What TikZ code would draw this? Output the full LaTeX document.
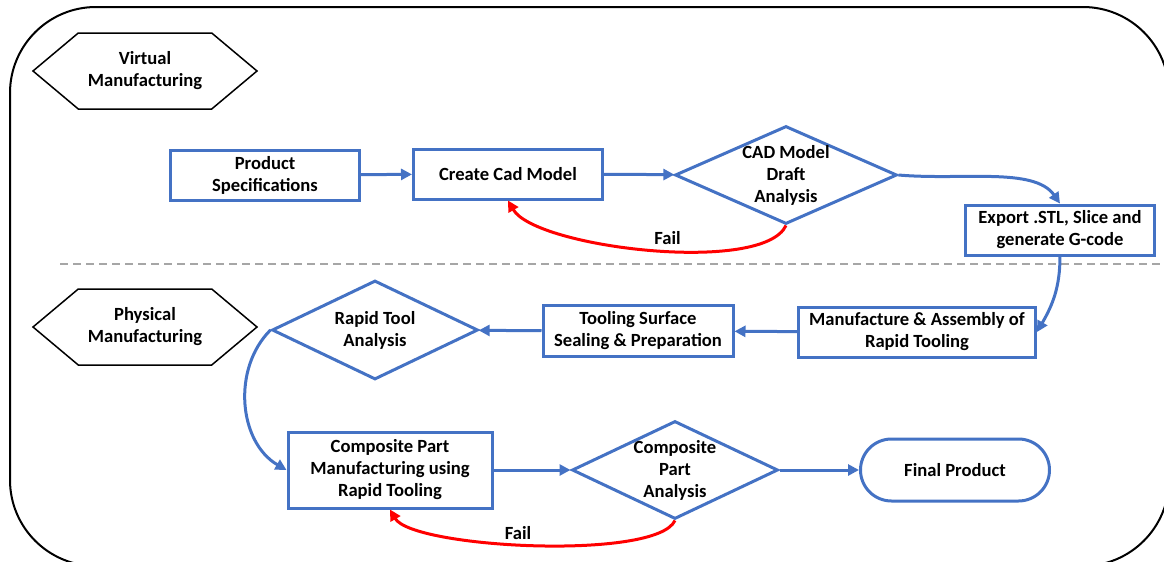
\documentclass[tikz,border=0pt]{standalone}
\usepackage{fontspec}
\setmainfont{Carlito}
\usetikzlibrary{positioning, arrows.meta, shapes.geometric, shapes.symbols}

\definecolor{flowblue}{HTML}{4472C4}
\definecolor{failred}{HTML}{FF0000}
\definecolor{sepgray}{HTML}{A6A6A6}

\tikzset{
  box/.style={draw=flowblue, line width=1.5pt, fill=white, inner sep=0pt, align=center,
    font=\fontsize{9.3}{11}\selectfont\bfseries, minimum width=94.5pt, minimum height=25pt},
  check/.style={diamond, draw=flowblue, line width=1.5pt, inner sep=-12pt, align=center,
    font=\fontsize{9.3}{11}\selectfont\bfseries},
  phase/.style={signal, signal to=west and east, signal pointer angle=80, draw=black,
    line width=0.75pt, inner sep=0pt, align=center, font=\fontsize{9.3}{11}\selectfont\bfseries,
    minimum width=112pt, minimum height=38pt},
  flow/.style={draw=flowblue, line width=1.5pt, -{Triangle[length=5.5pt,width=5.5pt]}},
  fail/.style={draw=failred, line width=1.5pt, -{Triangle[length=5.5pt,width=5.5pt]}},
  faillabel/.style={font=\fontsize{9.3}{11}\selectfont\bfseries, inner sep=1pt}
}

\begin{document}
\begin{tikzpicture}[x=0.5pt, y=-0.5pt]
  \useasboundingbox (0,0) rectangle (1164,562);
  \clip (0,0) rectangle (1164,562);
  % outer frame and the split between the two stages
  \draw[line width=1pt, rounded corners=43pt] (10,7) rectangle (1169,566);
  \draw[sepgray, line width=0.75pt, dash pattern=on 4pt off 2.5pt] (60,264) -- (1164,264);

  % stage tags
  \node[phase] (virtual) at (145,71) {Virtual\\Manufacturing};
  \node[phase] (physical) at (145,327) {Physical\\Manufacturing};

  % virtual stage
  \node[box] (spec) at (265,175) {Product\\Specifications};
  \node[box] (cad) at (508,174) {Create Cad Model};
  \node[check, minimum width=111pt, minimum height=49pt] (cadchk) at (786,175) {CAD Model\\Draft\\Analysis};
  \node[box] (export) at (1060,230) {Export .STL, Slice and\\generate G-code};

  % physical stage
  \node[box, minimum width=118.5pt] (assembly) at (917,332) {Manufacture \& Assembly of\\Rapid Tooling};
  \node[box, minimum width=95pt, minimum height=25.5pt] (sealing) at (638,331) {Tooling Surface\\Sealing \& Preparation};
  \node[check, minimum width=103pt, minimum height=49.5pt] (toolchk) at (375,330) {Rapid Tool\\Analysis};
  \node[box, minimum width=102pt, minimum height=38pt] (molding) at (390,470) {Composite Part\\Manufacturing using\\Rapid Tooling};
  \node[check, minimum width=103pt, minimum height=49pt] (partchk) at (675,470) {Composite\\Part\\Analysis};
  \node[box, rounded corners=15.5pt, minimum height=31pt] (final) at (955,470) {Final Product};

  % connectors
  \draw[flow] (spec) -- (cad);
  \draw[flow] (cad) -- (cadchk);
  \draw[flow] (cadchk.east) to[out=-5, in=125, in looseness=0.7] (export.north);
  \draw[flow] (export.south) to[out=-90, in=60] (assembly.east);
  \draw[flow] (assembly) -- (sealing);
  \draw[flow] (sealing) -- (toolchk);
  \draw[flow] (toolchk.west) to[out=225, in=150] (molding.west);
  \draw[flow] (molding) -- (partchk);
  \draw[flow] (partchk) -- (final);

  % rework loops
  \draw[fail] (cadchk.south) to[out=-115, in=-60, looseness=0.5]
    node[faillabel, pos=0.45, above=1.5pt] (fail1) {Fail} (cad.south);
  \draw[fail] (partchk.south) to[out=-115, in=-60, looseness=0.4]
    node[faillabel, pos=0.54, above=0.5pt] (fail2) {Fail} (molding.south);
\end{tikzpicture}
\end{document}
